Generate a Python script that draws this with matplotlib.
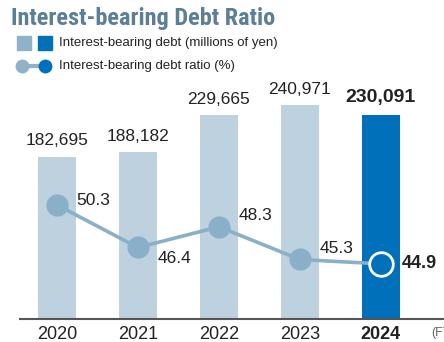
import matplotlib.pyplot as plt
from matplotlib import font_manager
from matplotlib.patches import Rectangle
from matplotlib.lines import Line2D

# Interest-bearing debt and debt ratio, FY2020-2024
years = ['2020', '2021', '2022', '2023', '2024']
debt = [182695, 188182, 229665, 240971, 230091]   # millions of yen
ratio = [50.3, 46.4, 48.3, 45.3, 44.9]            # %

light = '#bdd1df'
dark = '#0070bb'
line_c = '#8aafc8'
title_c = '#5b7f95'
text_c = '#222222'

W, H = 444, 342
plt.rcParams['font.family'] = ['Liberation Sans', 'DejaVu Sans']

# narrow face for the heading if one is installed
installed = {f.name for f in font_manager.fontManager.ttflist}
title_font = None
for name in ['Liberation Sans Narrow', 'Roboto Condensed', 'Open Sans Condensed',
             'Noto Sans Condensed', 'DejaVu Sans Condensed']:
    if name in installed:
        title_font = name
        break

fig = plt.figure(figsize=(W / 100, H / 100), dpi=100)


def fx(x):
    return x / W


def fy(y):
    return 1 - y / H


# plot area in pixels: left 20, right 444, top 90, bottom 319
ax = fig.add_axes([fx(20), fy(319), fx(424), (319 - 90) / H])
ax2 = ax.twinx()

x = list(range(len(years)))
colors = [light] * (len(years) - 1) + [dark]
ax.bar(x, debt, width=0.47, color=colors, zorder=1)
ax.set_xlim(-0.457, 4.78)
ax.set_ylim(0, 257900)

for i, v in enumerate(debt):
    last = i == len(debt) - 1
    ax.annotate(f'{v:,}', (i, v), xytext=(0, 6), textcoords='offset points',
                ha='center', va='bottom', color=text_c,
                fontsize=14 if last else 12.5,
                fontweight='bold' if last else 'normal')

# ratio line on secondary axis
ax2.set_ylim(39.84, 60.85)
ax2.plot(x, ratio, color=line_c, lw=2.6, zorder=3)
ax2.plot(x[:-1], ratio[:-1], 'o', ms=16, color=line_c, mec='none', zorder=4)
ax2.plot(x[-1], ratio[-1], 'o', ms=17, color=dark, mec='white', mew=2, zorder=5)

label_offsets = [(14, 3), (14, -8), (14, 8), (14, 8), (15, 0)]
for i, (v, off) in enumerate(zip(ratio, label_offsets)):
    last = i == len(ratio) - 1
    ax2.annotate(f'{v}', (i, v), xytext=off, textcoords='offset points',
                 ha='left', va='center', color=text_c,
                 fontsize=13 if last else 12.5,
                 fontweight='bold' if last else 'normal', zorder=6)

for a in (ax, ax2):
    for side in ('top', 'right', 'left'):
        a.spines[side].set_visible(False)
    a.set_yticks([])
ax2.spines['bottom'].set_visible(False)
ax.spines['bottom'].set_color('#555555')
ax.spines['bottom'].set_linewidth(1.5)
ax.set_xticks(x, years)
ax.tick_params(axis='x', length=0, pad=5, labelsize=13, labelcolor=text_c)
ax.get_xticklabels()[-1].set_fontweight('bold')
fig.text(fx(431), fy(333), '(FY)', fontsize=9, color='#666666', va='center')

# title and legend
if title_font:
    fig.text(fx(11), fy(19), 'Interest-bearing Debt Ratio', fontsize=17.5,
             color=title_c, fontweight='bold', va='center',
             family=[title_font, 'DejaVu Sans'])
else:
    fig.text(fx(11), fy(19), 'Interest-bearing Debt Ratio', fontsize=15,
             color=title_c, fontweight='bold', va='center')
fig.patches.append(Rectangle((fx(17), fy(50)), fx(14), 14 / H, color='#8fb2c9',
                             transform=fig.transFigure, figure=fig))
fig.patches.append(Rectangle((fx(38), fy(50)), fx(14), 14 / H, color=dark,
                             transform=fig.transFigure, figure=fig))
fig.text(fx(59), fy(43), 'Interest-bearing debt (millions of yen)', fontsize=9.5,
         color=text_c, va='center')
fig.lines.append(Line2D([fx(22), fx(45)], [fy(66), fy(66)], color='#8fb2c9', lw=3,
                        transform=fig.transFigure))
fig.lines.append(Line2D([fx(22)], [fy(66)], marker='o', ms=10, color='#8fb2c9',
                        mec='none', transform=fig.transFigure))
fig.lines.append(Line2D([fx(45)], [fy(66)], marker='o', ms=10, color=dark,
                        mec='none', transform=fig.transFigure))
fig.text(fx(59), fy(66), 'Interest-bearing debt ratio (%)', fontsize=9.5,
         color=text_c, va='center')

fig.savefig('out.png', dpi=100)
